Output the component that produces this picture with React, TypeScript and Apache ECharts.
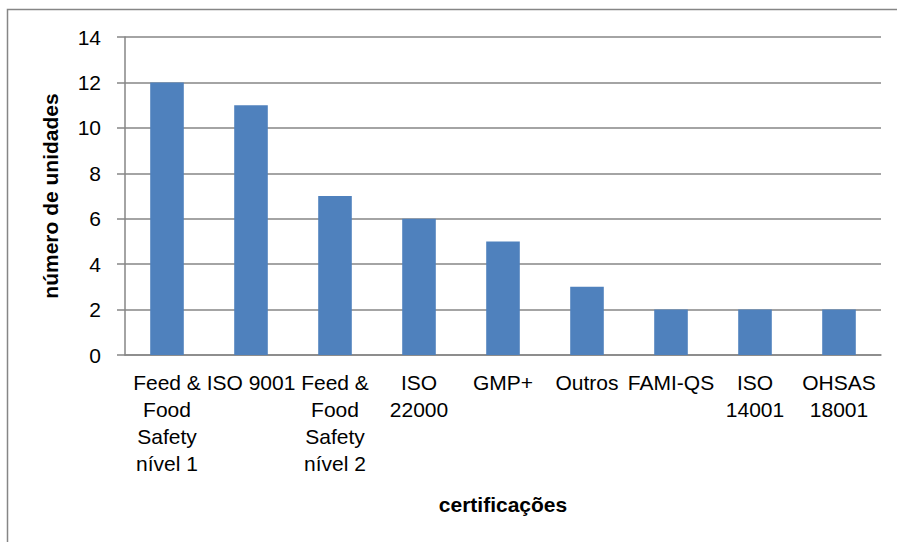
import React, { useEffect, useRef } from "react";
import * as echarts from "echarts";

// Certification types and number of units holding each
const categories: string[] = [
  "Feed &\nFood\nSafety\nnível 1",
  "ISO 9001",
  "Feed &\nFood\nSafety\nnível 2",
  "ISO\n22000",
  "GMP+",
  "Outros",
  "FAMI-QS",
  "ISO\n14001",
  "OHSAS\n18001",
];
const unidades: number[] = [12, 11, 7, 6, 5, 3, 2, 2, 2];

const yTitle = "número de unidades";
const xTitle = "certificações";

const FONT = "'Liberation Sans Narrow', 'Arial Narrow', 'Liberation Sans', Arial, sans-serif";
const GRID_GREY = "#868686";

export default function App() {
  const ref = useRef<HTMLDivElement>(null);

  useEffect(() => {
    if (!ref.current) return;
    const chart = echarts.init(ref.current, undefined, { renderer: "svg" });
    chart.setOption({
      animation: false,
      backgroundColor: "#ffffff",
      grid: { left: 125, right: 16, top: 37, bottom: 187, containLabel: false },
      graphic: [
        {
          // chart frame; its right and bottom edges run past the canvas
          type: "rect",
          shape: { x: 7.5, y: 9.5, width: 920, height: 560 },
          style: { fill: "none", stroke: GRID_GREY, lineWidth: 1.5 },
          silent: true,
          z: -1,
        },
      ],
      xAxis: {
        type: "category",
        data: categories,
        name: xTitle,
        nameLocation: "middle",
        nameGap: 139,
        nameTextStyle: { fontFamily: FONT, fontSize: 21, fontWeight: "bold", color: "#000" },
        axisLine: { lineStyle: { color: GRID_GREY, width: 1.5 } },
        axisTick: { show: false },
        axisLabel: {
          interval: 0,
          margin: 14,
          fontFamily: FONT,
          fontSize: 21,
          lineHeight: 27,
          color: "#000",
          align: "center",
        },
      },
      yAxis: {
        type: "value",
        min: 0,
        max: 14,
        interval: 2,
        name: yTitle,
        nameLocation: "middle",
        nameGap: 64,
        nameRotate: 90,
        nameTextStyle: { fontFamily: FONT, fontSize: 21, fontWeight: "bold", color: "#000" },
        axisLine: { show: true, lineStyle: { color: GRID_GREY, width: 1.5 } },
        axisTick: { show: true, length: 8, lineStyle: { color: GRID_GREY, width: 1.5 } },
        axisLabel: { margin: 24, fontFamily: FONT, fontSize: 21, color: "#000" },
        splitLine: { show: true, lineStyle: { color: GRID_GREY, width: 1.5 } },
      },
      series: [
        {
          type: "bar",
          data: unidades,
          barWidth: "40%",
          itemStyle: { color: "#4F81BD" },
        },
      ],
    });
    return () => chart.dispose();
  }, []);

  return (
    <div
      ref={ref}
      style={{ position: "fixed", left: 0, top: 0, width: 897, height: 542 }}
    />
  );
}
